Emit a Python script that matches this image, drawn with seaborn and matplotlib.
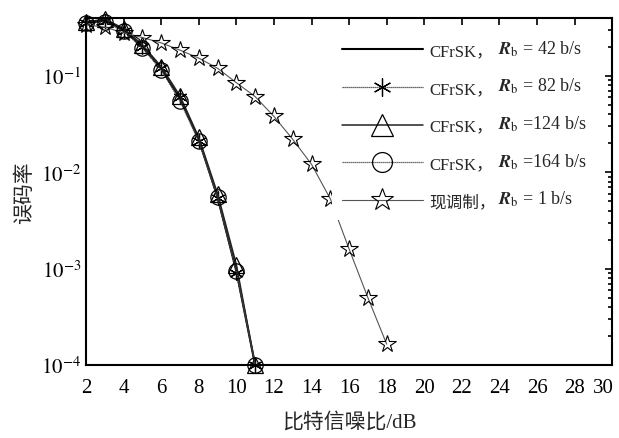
import numpy as np
import pandas as pd
import matplotlib
matplotlib.use('Agg')
import matplotlib.pyplot as plt
import matplotlib.transforms as mtransforms
import seaborn as sns

# values
snr_cfrsk = [2, 3, 4, 5, 6, 7, 8, 9, 10, 11]
ber_42 = [0.355, 0.375, 0.300, 0.200, 0.120, 0.058, 0.022, 0.0055, 0.00095, 0.0001]
ber_82 = [0.350, 0.370, 0.295, 0.198, 0.121, 0.060, 0.021, 0.0054, 0.00090, 0.0001]
ber_124 = [0.360, 0.390, 0.310, 0.210, 0.125, 0.062, 0.023, 0.0060, 0.00110, 0.0001]
ber_164 = [0.350, 0.365, 0.290, 0.195, 0.115, 0.055, 0.021, 0.0055, 0.00095, 0.0001]

snr_fsk = [2, 3, 4, 5, 6, 7, 8, 9, 10, 11, 12, 13, 14, 15, 16, 17, 18]
ber_fsk = [0.34, 0.32, 0.28, 0.25, 0.22, 0.185, 0.153, 0.12, 0.085, 0.061,
           0.038, 0.022, 0.0121, 0.0053, 0.0016, 0.0005, 0.000165]

# legend: scheme name (plain text, CJK ok) + rate part (mathtext)
names = ['CFrSK，', 'CFrSK，', 'CFrSK，', 'CFrSK，', '现调制，']
rates = [' = 42 b/s', ' = 82 b/s', ' =124 b/s', ' =164 b/s', ' = 1 b/s']

sns.set_style('white')
plt.rcParams['font.family'] = ['Liberation Serif', 'Noto Sans CJK SC']
plt.rcParams['mathtext.fontset'] = 'stix'

fig, ax = plt.subplots(figsize=(6.19, 4.39), dpi=100)
fig.subplots_adjust(left=0.139, right=0.989, top=0.957, bottom=0.166)

series = [
    (snr_cfrsk, ber_42, dict(color='black', lw=1.5, ls='-', marker=None)),
    (snr_cfrsk, ber_82, dict(color='#333333', lw=0.9, ls=(0, (1, 0.6)), marker=(6, 2, 0),
                             ms=10, mew=0.9, mec='black')),
    (snr_cfrsk, ber_124, dict(color='#222222', lw=1.1, ls='-', marker='^', ms=12,
                              mfc='none', mew=0.9, mec='black')),
    (snr_cfrsk, ber_164, dict(color='#444444', lw=0.9, ls=(0, (1, 0.6)), marker='o', ms=11,
                              mfc='none', mew=0.9, mec='black')),
    (snr_fsk, ber_fsk, dict(color='#555555', lw=0.8, ls='-', marker='*', ms=13,
                            mfc='none', mew=0.8, mec='black')),
]

for i, (x, y, st) in enumerate(series):
    df = pd.DataFrame({'snr': x, 'ber': y})
    sns.lineplot(data=df, x='snr', y='ber', ax=ax, label=f'row{i}', clip_on=False,
                 color=st['color'], linewidth=st['lw'], linestyle=st['ls'],
                 marker=st.get('marker'), markersize=st.get('ms', 6),
                 markerfacecolor=st.get('mfc', 'none'),
                 markeredgecolor=st.get('mec', 'black'),
                 markeredgewidth=st.get('mew', 1))

ax.set_yscale('log')
ax.set_xlim(2, 30)
ax.set_ylim(1e-4, 0.4)
ax.set_xticks(np.arange(2, 31, 2))
ax.set_yticks([1e-4, 1e-3, 1e-2, 1e-1])
ax.set_yticklabels([r'$10^{-4}$', r'$10^{-3}$', r'$10^{-2}$', r'$10^{-1}$'])
ax.tick_params(axis='both', which='both', direction='in', top=True, right=True,
               labelsize=15, width=1.2, colors='black')
ax.tick_params(axis='x', pad=9)
ax.tick_params(which='major', length=5)
ax.tick_params(which='minor', length=3)
for s in ax.spines.values():
    s.set_linewidth(1.5)
    s.set_color('black')

# keep the last x tick label inside the figure
lab30 = ax.get_xticklabels()[-1]
lab30.set_transform(lab30.get_transform() +
                    mtransforms.ScaledTranslation(-6 / 72, 0, fig.dpi_scale_trans))

ax.set_xlabel('比特信噪比/dB', fontsize=15, labelpad=11)
ax.set_ylabel('误码率', fontsize=15)

handles, _ = ax.get_legend_handles_labels()
leg = ax.legend(handles, names, loc='upper left', bbox_to_anchor=(0.467, 0.956),
                borderaxespad=0, fontsize=12, handlelength=4.85, handletextpad=0.4,
                labelspacing=1.3, markerscale=1.3, frameon=True, fancybox=False,
                borderpad=0.6)
leg.get_frame().set_edgecolor('none')
leg.get_frame().set_facecolor('white')
leg.get_frame().set_alpha(1)

# append the R_b part after each legend name
fig.canvas.draw()
renderer = fig.canvas.get_renderer()
texts = leg.get_texts()
x_r = max(t.get_window_extent(renderer).x1 for t in texts) + 2
for t, rb in zip(texts, rates):
    bx, by = t.get_transform().transform(t.get_position())
    fig.text(x_r / fig.bbox.width, (by + 2) / fig.bbox.height,
             r'$\mathbfit{R}_{\rm b}$' + rb, fontsize=13, va=t.get_va(), ha='left')

fig.savefig('out.png', dpi=100)
